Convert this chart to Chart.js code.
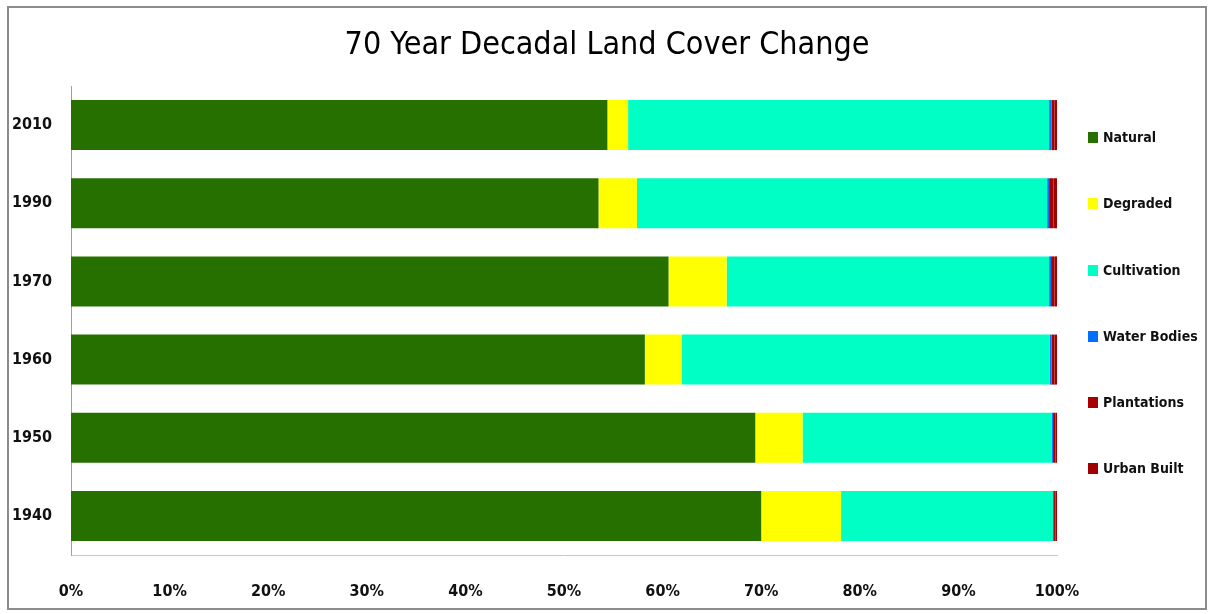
<!DOCTYPE html>
<html>
<head>
<meta charset="utf-8">
<script src="https://cdn.jsdelivr.net/npm/chart.js@4/dist/chart.umd.min.js"></script>
<style>
  body { margin: 0; background: #fff; }
  #frame {
    position: absolute; left: 7px; top: 6px;
    width: 1196px; height: 600px;
    border: 2px solid #8c8c8c; background: #fff;
  }
  #frame canvas { display: block; }
  #legend {
    position: absolute; left: 1088px; top: 0; margin: 0; padding: 0; list-style: none;
    font-family: "DejaVu Sans Condensed", sans-serif;
    font-weight: bold; font-size: 14px; color: #111;
  }
  #legend li { position: absolute; white-space: nowrap; display: flex; align-items: center; }
  #legend span { display: inline-block; width: 10px; height: 11px; margin-right: 5px; }
</style>
</head>
<body>
<div id="frame"><canvas id="chartBar" width="1196" height="600"></canvas></div>
<ul id="legend"></ul>
<script>
  /* ---- data ---- */
  const years        = ["2010", "1990", "1970", "1960", "1950", "1940"];
  const natural      = [54.4, 53.5, 60.6, 58.2, 69.4, 70.0];
  const degraded     = [2.1, 3.9, 5.9, 3.75, 4.8, 8.1];
  const cultivation  = [42.7, 41.6, 32.7, 37.3, 25.3, 21.5];
  const waterBodies  = [0.25, 0.2, 0.2, 0.2, 0.1, 0.1];
  const plantations  = [0.3, 0.45, 0.35, 0.3, 0.25, 0.15];
  const urbanBuilt   = [0.3, 0.4, 0.3, 0.25, 0.2, 0.15];
  const xTicks       = [0, 10, 20, 30, 40, 50, 60, 70, 80, 90, 100];

  const seriesNames  = ["Natural", "Degraded", "Cultivation", "Water Bodies", "Plantations", "Urban Built"];
  const seriesData   = [natural, degraded, cultivation, waterBodies, plantations, urbanBuilt];
  const seriesColors = ["#267000", "#ffff00", "#00ffc5", "#0070ff", "#a80000", "#a00000"];

  const FONT = "'DejaVu Sans Condensed', sans-serif";

  let ctx = document.getElementById('chartBar').getContext('2d');
  new Chart(ctx, {
      type: 'bar',
      data: {
          labels: years,
          datasets: seriesNames.map(function (name, i) {
              return {
                  label: name,
                  data: seriesData[i],
                  backgroundColor: seriesColors[i],
                  borderWidth: 0,
                  categoryPercentage: 1,
                  barPercentage: 0.64
              };
          })
      },
      options: {
          indexAxis: 'y',
          responsive: false,
          animation: false,
          plugins: {
              legend: { display: false },
              tooltip: { enabled: false },
              title: {
                  display: true,
                  text: '70 Year Decadal Land Cover Change',
                  color: '#000',
                  font: { family: FONT, size: 32, weight: 'normal', lineHeight: 1.2 },
                  padding: { top: 18, bottom: 21.6 }
              }
          },
          scales: {
              x: {
                  stacked: true,
                  min: 0, max: 100,
                  afterBuildTicks: function (s) { s.ticks = xTicks.map(v => ({ value: v })); },
                  afterFit: function (s) { s.height = 53; },
                  grid: { display: false, drawTicks: false },
                  border: { display: true, color: '#c8c8c8', width: 1 },
                  ticks: {
                      color: '#111', padding: 27,
                      font: { family: FONT, size: 16, weight: 'bold' },
                      callback: v => v + '%'
                  }
              },
              y: {
                  stacked: true,
                  afterFit: function (s) { s.width = 62; },
                  grid: { display: false, drawTicks: false },
                  border: { display: true, color: '#a0a0a0', width: 1 },
                  ticks: {
                      color: '#111', padding: 19,
                      font: { family: FONT, size: 16, weight: 'bold' }
                  }
              },
              // empty right axis: reserves room for the legend, keeps title centred on the page
              yRight: {
                  type: 'category',
                  position: 'right',
                  afterFit: function (s) { s.width = 148; },
                  grid: { display: false, drawTicks: false },
                  border: { display: false },
                  ticks: { display: false }
              }
          }
      }
  });

  /* ---- legend ---- */
  const legendY = [137, 203, 270, 336, 402, 468];
  const ul = document.getElementById('legend');
  seriesNames.forEach(function (name, i) {
      const li = document.createElement('li');
      li.style.top = (legendY[i] - 10) + 'px';
      li.style.height = '20px';
      li.innerHTML = '<span style="background:' + seriesColors[i] + '"></span>' + name;
      ul.appendChild(li);
  });
</script>
</body>
</html>
